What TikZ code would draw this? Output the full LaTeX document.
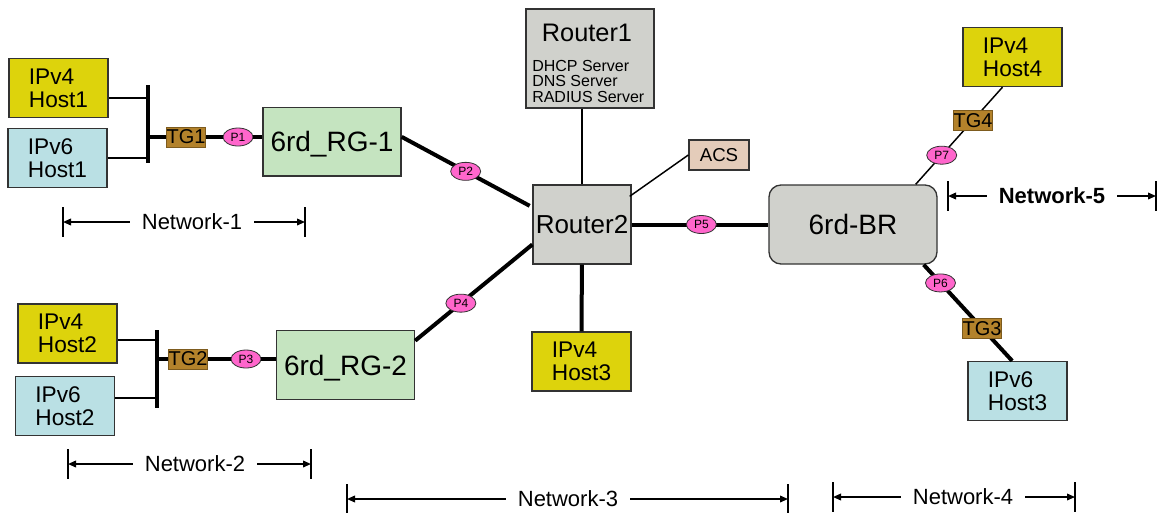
\documentclass[tikz,border=0pt]{standalone}
\usepackage{fontspec}
\setmainfont{Liberation Sans}
\usetikzlibrary{arrows.meta, shapes.geometric, positioning}
\definecolor{hostFour}{HTML}{DDD30C}
\definecolor{hostSix}{HTML}{BAE0E4}
\definecolor{rgGreen}{HTML}{C5E4C0}
\definecolor{routerGray}{HTML}{D0D1CC}
\definecolor{acsTan}{HTML}{E4CCBA}
\definecolor{tgBrown}{HTML}{B3822B}
\definecolor{portPink}{HTML}{FF66CC}
\definecolor{edgeGray}{HTML}{333333}

\begin{document}
\begin{tikzpicture}[x=0.75pt, y=-0.75pt,
	box/.style={draw=edgeGray, line width=1pt, inner sep=0pt, align=left},
	host/.style={box, minimum width=74.25pt, minimum height=44.25pt,
		font=\fontsize{17}{17.25}\selectfont},
	vfour/.style={host, fill=hostFour},
	vsix/.style={host, fill=hostSix},
	rg/.style={box, fill=rgGreen, minimum width=103.5pt, minimum height=51.5pt,
		text depth=0pt, font=\fontsize{21}{21}\selectfont},
	router/.style={box, fill=routerGray},
	bar/.style={fill=black, inner sep=0pt, minimum width=3pt, minimum height=58.5pt},
	tg/.style={fill=tgBrown, draw=tgBrown!70!black, line width=0.4pt, inner sep=0pt,
		minimum width=29.25pt, minimum height=15pt, font=\fontsize{15}{15}\selectfont},
	port/.style={ellipse, fill=portPink, draw=edgeGray, line width=0.6pt, inner sep=0pt,
		minimum width=22.5pt, minimum height=13.5pt, font=\fontsize{9}{9}\selectfont},
	thinline/.style={line width=1.1pt},
	thickline/.style={line width=3pt},
	netlabel/.style={inner xsep=9pt, font=\fontsize{16.5}{16.5}\selectfont},
	dimline/.style={line width=1.1pt, -{Triangle[length=6pt, width=5pt]}}
	]
	\useasboundingbox[fill=white] (0,0) rectangle (1157,512);
	%-------------------------------------------------------------------------------
	% hosts
	%-------------------------------------------------------------------------------
	\node[vfour] (h41) at (58.5,88) {IPv4\\Host1};
	\node[vsix] (h61) at (57.5,158) {IPv6\\Host1};
	\node[vfour] (h42) at (67.5,333.5) {IPv4\\Host2};
	\node[vsix] (h62) at (65,406) {IPv6\\Host2};
	\node[vfour] (h43) at (581.5,361.5) {IPv4\\Host3};
	\node[vfour] (h44) at (1012.5,57) {IPv4\\Host4};
	\node[vsix] (h63) at (1017.5,391) {IPv6\\Host3};

	% core nodes
	\node[rg] (rg1) at (332,141.5) {6rd\_RG-1};
	\node[rg] (rg2) at (345.5,365) {6rd\_RG-2};
	\node[router, minimum width=96pt, minimum height=74.25pt] (r1) at (590,58.5) {};
	\node[font=\fontsize{19}{19}\selectfont] (r1name) at (587,33) {Router1};
	\node[anchor=north west, inner sep=0pt, align=left,
		font=\fontsize{12}{11.6}\selectfont] (r1serv) at (532,60)
		{DHCP Server\\DNS Server\\RADIUS Server};
	\node[router, minimum width=73.5pt, minimum height=59.25pt,
		font=\fontsize{19.5}{19.5}\selectfont] (r2) at (582,224.5) {Router2};
	\node[router, rounded corners=9pt, minimum width=126pt, minimum height=59.25pt,
		font=\fontsize{21}{21}\selectfont] (br) at (853,224.5) {6rd-BR};
	\node[box, fill=acsTan, minimum width=45pt, minimum height=22.5pt,
		font=\fontsize{14}{14}\selectfont] (acs) at (719,155) {ACS};

	% switch bars, testers and ports
	\node[bar] (bar1) at (148,124) {};
	\node[bar] (bar2) at (157,369) {};
	\node[tg] (tg1) at (186,137) {TG1};
	\node[tg] (tg2) at (188,359) {TG2};
	\node[port] (p1) at (238,137) {P1};
	\node[port] (p3) at (246,359) {P3};

	% left side
	\draw[thinline] ([yshift=-7.5pt]h41.east) -- ([yshift=-7.5pt]h41.east -| bar1.west);
	\draw[thinline] (h61.east) -- (h61.east -| bar1.west);
	\draw[thinline] ([yshift=-5pt]h42.east) -- ([yshift=-5pt]h42.east -| bar2.west);
	\draw[thinline] ([yshift=6pt]h62.east) -- ([yshift=6pt]h62.east -| bar2.west);
	\draw[thickline] (bar1.east |- tg1) -- (tg1) -- (p1) -- (rg1.west |- p1);
	\draw[thickline] (bar2.east |- tg2) -- (tg2) -- (p3) -- (rg2.west |- p3);

	% core links
	\draw[thickline] ([yshift=3.5pt]rg1.east) -- ([xshift=-2pt,yshift=14pt]r2.west)
		node[port, pos=0.5] (p2) {P2};
	\draw[thickline] ([yshift=-8pt]rg2.north east) -- ([yshift=-15pt]r2.west)
		node[port, pos=0.39] (p4) {P4};
	\draw[thickline] (r2) -- (br) node[port, pos=0.51] (p5) {P5};
	\draw[thickline] (r2) -- (h43);
	\draw[thinline] (r1.south -| r2.north) -- (r2.north);
	\draw[thinline] (acs.west) -- ([xshift=-1.5pt,yshift=-9pt]r2.north east);

	% right side
	\draw[thinline] ([xshift=-16.5pt]br.north east) -- ([xshift=-7.5pt]h44.south)
		node[tg, pos=0.66] (tg4) {TG4} node[port, pos=0.3] (p7) {P7};
	\draw[thickline] ([xshift=-10.5pt]br.south east) -- ([xshift=-4pt]h63.north)
		node[tg, pos=0.66] (tg3) {TG3} node[port, pos=0.19] (p6) {P6};

	%-------------------------------------------------------------------------------
	% networks
	%-------------------------------------------------------------------------------
	\foreach \n/\l/\c/\r/\y/\f in {1/63/192/305/222/, 2/68/195/311/464/,
			3/347/568/788/499/, 4/833/963/1075/497/, 5/948/1052/1156/196/\bfseries} {
		\coordinate (net\n l) at (\l,\y);
		\coordinate (net\n r) at (\r,\y);
		\node[netlabel] (net\n) at (\c,\y) {\f Network-\n};
		\draw[dimline] (net\n) -- (net\n l);
		\draw[dimline] (net\n) -- (net\n r);
		\draw[thinline] ([yshift=11.25pt]net\n l) -- ([yshift=-11.25pt]net\n l);
		\draw[thinline] ([yshift=11.25pt]net\n r) -- ([yshift=-11.25pt]net\n r);
	}
\end{tikzpicture}
\end{document}
